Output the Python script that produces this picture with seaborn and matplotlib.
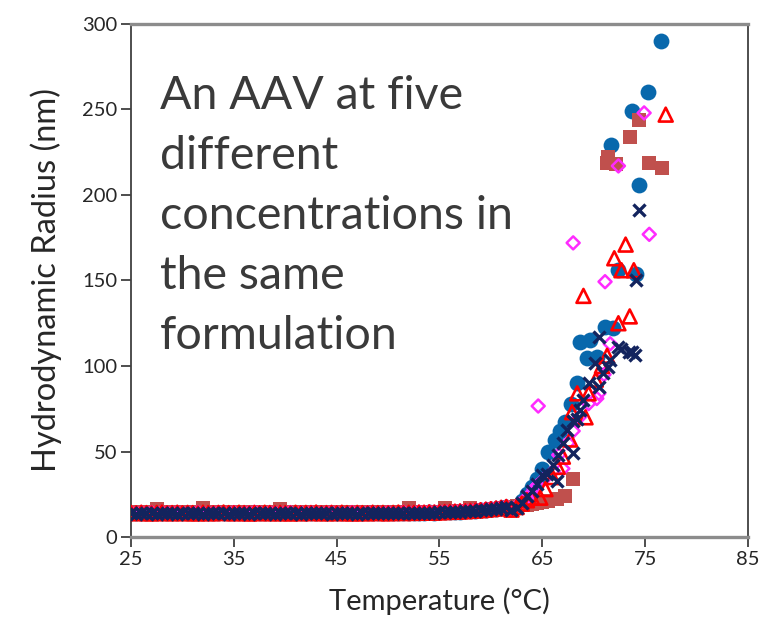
import matplotlib
matplotlib.use("Agg")
import matplotlib.pyplot as plt
import numpy as np
import pandas as pd
import seaborn as sns

# Shared temperature grid for the flat (pre-transition) part of every run, °C
temp_base = [25.0, 25.5, 26.0, 26.5, 27.0, 27.5, 28.0, 28.5, 29.0, 29.5,
             30.0, 30.5, 31.0, 31.5, 32.0, 32.5, 33.0, 33.5, 34.0, 34.5,
             35.0, 35.5, 36.0, 36.5, 37.0, 37.5, 38.0, 38.5, 39.0, 39.5,
             40.0, 40.5, 41.0, 41.5, 42.0, 42.5, 43.0, 43.5, 44.0, 44.5,
             45.0, 45.5, 46.0, 46.5, 47.0, 47.5, 48.0, 48.5, 49.0, 49.5,
             50.0, 50.5, 51.0, 51.5, 52.0, 52.5, 53.0, 53.5, 54.0, 54.5,
             55.0, 55.5, 56.0, 56.5, 57.0, 57.5, 58.0, 58.5, 59.0, 59.5,
             60.0, 60.5, 61.0, 61.5]

# Hydrodynamic radius (nm) on the flat part, one list per concentration
blue_base = [14.1, 13.9, 14.0, 13.8, 14.2, 14.0, 13.9, 14.1, 14.0, 13.8,
             14.0, 14.1, 13.9, 14.0, 14.2, 13.9, 14.0, 13.8, 14.1, 14.0,
             13.9, 14.0, 14.1, 13.8, 14.0, 14.2, 14.0, 13.9, 14.0, 14.1,
             13.9, 14.0, 13.8, 14.1, 14.0, 13.9, 14.2, 14.0, 13.9, 14.0,
             14.1, 13.8, 14.0, 14.1, 13.9, 14.0, 14.2, 14.0, 13.9, 14.1,
             14.0, 13.9, 14.1, 14.2, 14.0, 14.1, 14.3, 14.2, 14.4, 14.3,
             14.5, 14.6, 14.5, 14.8, 14.9, 15.1, 15.0, 15.3, 15.6, 15.8,
             16.1, 16.5, 16.9, 17.4]
brown_base = [14.6, 14.4, 14.7, 14.5, 14.6, 16.6, 14.5, 14.4, 14.6, 14.5,
              14.6, 14.7, 14.4, 14.6, 16.7, 14.5, 14.5, 14.4, 14.6, 14.5,
              14.5, 14.7, 14.6, 14.4, 14.6, 14.5, 14.6, 14.7, 14.4, 16.5,
              14.6, 14.5, 14.6, 14.4, 14.7, 14.6, 14.5, 14.6, 14.4, 14.6,
              14.7, 14.5, 14.6, 14.4, 14.6, 14.6, 14.5, 14.7, 14.6, 14.4,
              14.6, 14.6, 14.5, 14.7, 16.8, 14.6, 14.6, 14.5, 14.7, 14.6,
              14.8, 16.9, 15.0, 14.9, 15.1, 15.3, 17.1, 15.5, 15.7, 15.9,
              16.2, 16.5, 16.8, 17.2]
red_base = [14.1, 13.9, 14.2, 14.0, 13.8, 14.1, 14.3, 13.9, 14.0, 14.2,
            13.9, 14.1, 14.0, 13.8, 14.2, 14.0, 13.9, 14.1, 14.3, 14.0,
            13.9, 14.2, 14.0, 13.8, 14.1, 13.9, 14.2, 14.0, 13.9, 14.1,
            14.0, 13.8, 14.2, 13.9, 14.1, 14.0, 14.3, 13.9, 14.0, 14.1,
            13.9, 14.2, 14.0, 13.8, 14.1, 14.0, 13.9, 14.2, 14.0, 14.1,
            13.9, 14.1, 14.3, 14.0, 14.2, 14.1, 14.3, 14.2, 14.4, 14.3,
            14.5, 14.6, 14.7, 14.8, 15.0, 15.1, 15.3, 15.5, 15.7, 16.0,
            16.3, 16.7, 17.1, 17.6]
magenta_base = [14.2, 14.0, 14.3, 14.1, 14.2, 14.0, 14.4, 14.1, 14.2, 14.3,
                14.0, 14.2, 14.1, 14.3, 14.2, 14.0, 14.1, 14.3, 14.2, 14.1,
                14.3, 14.0, 14.2, 14.1, 14.4, 14.2, 14.0, 14.3, 14.1, 14.2,
                14.2, 14.3, 14.0, 14.2, 14.1, 14.3, 14.2, 14.0, 14.2, 14.3,
                14.1, 14.2, 14.0, 14.3, 14.2, 14.1, 14.2, 14.3, 14.1, 14.2,
                14.3, 14.1, 14.2, 14.4, 14.2, 14.3, 14.5, 14.4, 14.6, 14.5,
                14.7, 14.8, 14.9, 15.0, 15.2, 15.3, 15.5, 15.7, 15.9, 16.2,
                16.5, 16.8, 17.2, 17.7]
navy_base = [13.9, 13.7, 14.0, 13.8, 13.9, 13.6, 14.0, 13.8, 13.9, 13.7,
             14.0, 13.8, 13.9, 14.1, 13.7, 13.9, 13.8, 14.0, 13.9, 13.7,
             13.8, 14.0, 13.9, 13.7, 13.9, 13.8, 14.0, 13.8, 13.7, 13.9,
             14.0, 13.8, 13.9, 13.7, 14.0, 13.9, 13.8, 14.0, 13.9, 13.7,
             13.9, 14.0, 13.8, 13.9, 13.7, 14.0, 13.9, 13.8, 14.0, 13.9,
             13.8, 14.0, 13.9, 14.1, 14.0, 14.1, 14.2, 14.1, 14.3, 14.2,
             14.4, 14.5, 14.6, 14.7, 14.9, 15.0, 15.2, 15.4, 15.6, 15.9,
             16.2, 16.5, 16.9, 17.3]

# Aggregation region (temperature °C, radius nm) for each concentration
blue_t = [62.0, 62.5, 63.0, 63.5, 64.0, 64.5, 65.0, 65.6, 66.2, 66.7,
          67.2, 67.8, 68.4, 68.7, 69.3, 69.6, 70.3, 71.1, 71.9, 72.4,
          74.1, 71.7, 73.7, 74.4, 75.3, 76.5]
blue_r = [16.5, 18, 21, 25, 29, 34, 40, 50, 57, 62,
          67, 78, 90, 114, 104.5, 115, 105.4, 123, 122, 156,
          154, 229, 249, 206, 260, 290]

brown_t = [62.0, 62.5, 63.0, 63.5, 64.0, 64.5, 65.0, 65.6, 66.4, 67.2,
           68.0, 71.3, 71.4, 72.2, 73.5, 74.4, 75.4, 76.6]
brown_r = [17.8, 18, 18.5, 19, 19.5, 20, 20.5, 21, 22, 24,
           34, 219, 222, 218, 234, 244, 219, 216]

red_t = [62.0, 62.5, 63.0, 63.5, 64.0, 64.8, 65.3, 66.0, 66.5, 67.0,
         67.7, 67.9, 68.4, 69.2, 69.5, 70.2, 70.8, 71.3, 72.4, 73.5,
         69.0, 72.7, 73.9, 72.0, 73.1, 77.0]
red_r = [16, 17.5, 19.5, 21.5, 23, 23, 28, 35, 41, 47,
         57, 73, 84, 70, 84, 92, 100, 106, 125, 129,
         141, 156, 156, 163, 171, 247]

magenta_t = [62.0, 62.7, 63.5, 64.2, 64.5, 65.2, 66.0, 66.6, 67.0, 67.5,
             68.0, 68.6, 69.5, 70.3, 70.5, 71.0, 71.6, 64.6, 68.0, 71.1,
             72.4, 74.9, 75.4]
magenta_r = [16, 19, 23, 28, 30, 34, 38, 48, 40, 55,
             62, 70, 78, 81, 84, 95, 113, 76.6, 172, 149.3,
             217, 248, 177]

navy_t = [62.0, 62.5, 63.0, 63.5, 64.0, 64.5, 65.0, 65.5, 66.0, 66.4,
          66.5, 67.0, 67.4, 68.0, 68.0, 68.4, 68.7, 69.0, 69.5, 70.1,
          70.5, 70.5, 70.9, 71.4, 71.6, 72.4, 72.7, 73.4, 73.7, 74.0,
          74.1, 74.4]
navy_r = [15.5, 17, 20, 24, 27, 31, 36, 37, 42, 33,
          48, 55, 62.6, 49, 68, 69, 74, 80, 89.9, 101.6,
          88, 117, 95.7, 99.6, 103.5, 111.3, 110, 108.4, 108.4, 106.4,
          150.3, 191]

x_ticks = [25, 35, 45, 55, 65, 75, 85]
y_ticks = [0, 50, 100, 150, 200, 250, 300]

note_text = "An AAV at five\ndifferent\nconcentrations in\nthe same\nformulation"


def run_frame(base_r, t, r):
    return pd.DataFrame({"temp": temp_base + t, "radius": base_r + r})


blue_df = run_frame(blue_base, blue_t, blue_r)
brown_df = run_frame(brown_base, brown_t, brown_r)
red_df = run_frame(red_base, red_t, red_r)
magenta_df = run_frame(magenta_base, magenta_t, magenta_r)
navy_df = run_frame(navy_base, navy_t, navy_r)

sns.set_theme(style="white")
plt.rcParams["font.family"] = ["Lato", "DejaVu Sans"]

fig = plt.figure(figsize=(7.63, 6.38), dpi=100)
ax = fig.add_axes([0.1717, 0.1583, 0.8086, 0.8041])

sns.scatterplot(data=blue_df, x="temp", y="radius", ax=ax, marker="o",
                s=130, color="#0868AC", edgecolor="#0868AC", linewidth=0,
                zorder=2)
sns.scatterplot(data=brown_df, x="temp", y="radius", ax=ax, marker="s",
                s=100, color="#C0504D", edgecolor="#C0504D", linewidth=0,
                zorder=3)
sns.scatterplot(data=magenta_df, x="temp", y="radius", ax=ax, marker="D",
                s=44, facecolor="none", edgecolor="#FF2BFF", linewidth=1.8,
                zorder=4)
sns.scatterplot(data=red_df, x="temp", y="radius", ax=ax, marker="^",
                s=100, facecolor="none", edgecolor="#FF0000", linewidth=1.9,
                zorder=5)
sns.scatterplot(data=navy_df, x="temp", y="radius", ax=ax, marker="x",
                s=75, color="#13245E", linewidth=2.4, zorder=6)

ax.set_xlim(25, 85)
ax.set_ylim(0, 300)
ax.set_xticks(x_ticks)
ax.set_yticks(y_ticks)
ax.set_xlabel("Temperature (°C)", fontsize=21, color="#262626", labelpad=14)
ax.set_ylabel("Hydrodynamic Radius (nm)", fontsize=23.5, color="#262626",
              labelpad=14)
ax.tick_params(axis="both", which="major", direction="out", length=7,
               width=1.3, color="#404040", labelsize=14.5, labelcolor="#262626",
               bottom=True, left=True, top=False, right=False, pad=3)

for side in ("top", "bottom"):
    ax.spines[side].set_visible(True)
    ax.spines[side].set_color("#8C8C8C")
    ax.spines[side].set_linewidth(2.4)
for side in ("left", "right"):
    ax.spines[side].set_visible(True)
    ax.spines[side].set_color("#404040")
    ax.spines[side].set_linewidth(1.3)

ax.text(0.047, 0.90, note_text, transform=ax.transAxes, ha="left", va="top",
        fontsize=33.5, color="#3A3A3A", linespacing=1.53, fontweight="normal")

fig.savefig("out.png", dpi=100)
